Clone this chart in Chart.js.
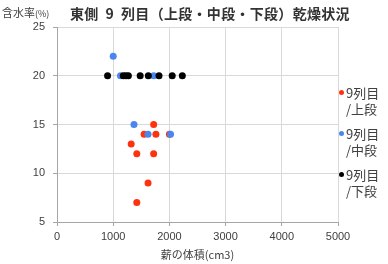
<!DOCTYPE html>
<html>
<head>
<meta charset="utf-8">
<script src="https://cdn.jsdelivr.net/npm/chart.js@4"></script>
<style>
  body { margin: 0; background: #fff; }
  #wrap { position: relative; width: 388px; height: 264px; font-family: "Noto Sans CJK JP", sans-serif; color: #404040; }
  #ylab { position: absolute; left: 2px; top: 4px; font-size: 11px; white-space: nowrap; }
  #ylab small { font-size: 9px; }
  #title { position: absolute; left: 70px; top: 3px; font-size: 14px; font-weight: bold; white-space: pre; color: #333; letter-spacing: 0.3px; }
  .lg { position: absolute; left: 339px; font-size: 13px; line-height: 16px; white-space: nowrap; }
  .lg i { position: absolute; left: 0; top: 5px; width: 5px; height: 5px; border-radius: 50%; }
  .lg span { display: block; padding-left: 7px; }
</style>
</head>
<body>
<div id="wrap">
  <canvas id="myChart" width="388" height="264"></canvas>
  <div id="ylab">含水率<small>(%)</small></div>
  <div id="title">東側  9  列目（上段・中段・下段）乾燥状況</div>
  <div id="legend"></div>
</div>
<script>
// 上段
var xUpper = [1720, 1550, 1760, 2000, 1320, 1420, 1720, 1620, 1420];
var yUpper = [15, 14, 14, 14, 13, 12, 12, 9, 7];
// 中段
var xMiddle = [1000, 1130, 1720, 1370, 1620, 2020];
var yMiddle = [22, 20, 20, 15, 14, 14];
// 下段
var xLower = [900, 1180, 1225, 1270, 1480, 1625, 1815, 2050, 2230];
var yLower = [20, 20, 20, 20, 20, 20, 20, 20, 20];

var seriesNames = [['9列目', '/上段'], ['9列目', '/中段'], ['9列目', '/下段']];
var seriesColors = ['#ff3210', '#4a86ee', '#000000'];
var legendTops = [85, 126, 167];

function toPoints(xs, ys) {
  return xs.map(function (x, i) { return { x: x, y: ys[i] }; });
}

var ctx = document.getElementById('myChart').getContext('2d');
var tickFont = { family: 'Liberation Sans', size: 11 };

var myChart = new Chart(ctx, {
  type: 'scatter',
  data: {
    datasets: [
      { label: seriesNames[0].join(''), data: toPoints(xUpper, yUpper), backgroundColor: seriesColors[0], order: 2 },
      { label: seriesNames[1].join(''), data: toPoints(xMiddle, yMiddle), backgroundColor: seriesColors[1], order: 1 },
      { label: seriesNames[2].join(''), data: toPoints(xLower, yLower), backgroundColor: seriesColors[2], order: 0 }
    ]
  },
  options: {
    responsive: false,
    animation: false,
    layout: { padding: { left: 0, right: 50, top: 27, bottom: 0 } },
    elements: { point: { radius: 3.5, borderWidth: 0, hoverRadius: 3.5 } },
    plugins: { legend: { display: false }, tooltip: { enabled: false } },
    scales: {
      x: {
        type: 'linear',
        min: 0, max: 5000,
        ticks: { stepSize: 1000, color: '#404040', font: tickFont, padding: 4,
          callback: function (v) { return String(v); } },
        grid: { color: '#d9d9d9', tickLength: 4, tickColor: '#a6a6a6' },
        border: { color: '#a6a6a6' },
        title: { display: true, text: '薪の体積(cm3)', color: '#404040', font: { family: 'Noto Sans CJK JP', size: 11 }, padding: { top: 0, bottom: 3 } },
        afterFit: function (s) { s.height = 42; }
      },
      y: {
        min: 5, max: 25,
        ticks: { stepSize: 5, color: '#404040', font: tickFont, padding: 8 },
        grid: { color: '#d9d9d9', tickLength: 4, tickColor: '#a6a6a6' },
        border: { color: '#a6a6a6' },
        afterFit: function (s) { s.width = 57; }
      }
    }
  }
});

// 凡例
var lg = document.getElementById('legend');
seriesNames.forEach(function (lines, i) {
  var d = document.createElement('div');
  d.className = 'lg';
  d.style.top = legendTops[i] + 'px';
  d.innerHTML = '<i style="background:' + seriesColors[i] + '"></i>' +
    lines.map(function (t) { return '<span>' + t + '</span>'; }).join('');
  lg.appendChild(d);
});
</script>
</body>
</html>
